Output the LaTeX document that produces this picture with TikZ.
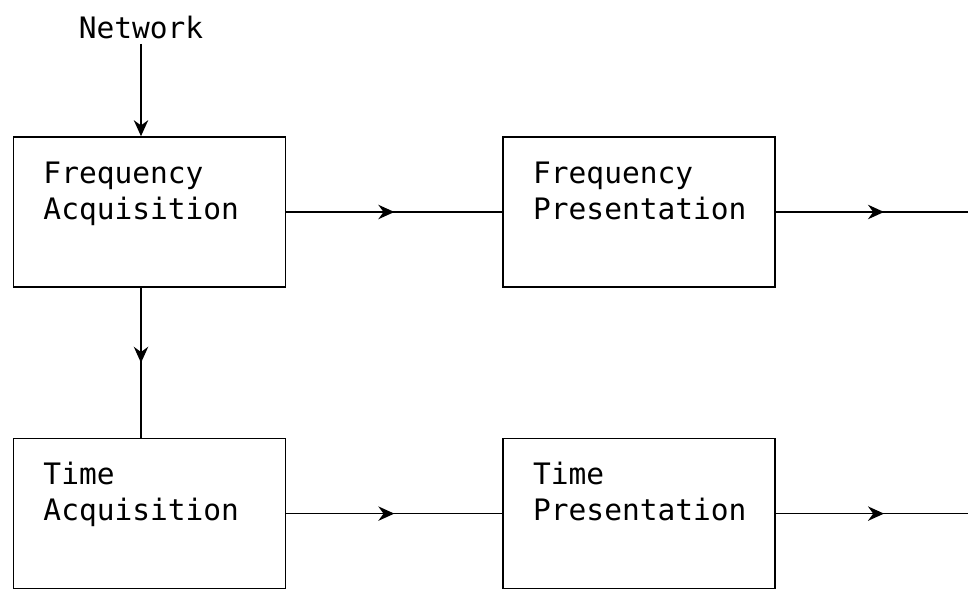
\documentclass[tikz,border=0pt]{standalone}
\usepackage{fontspec}
\setmonofont{DejaVu Sans Mono}
\usepackage{tikz}
\usetikzlibrary{arrows.meta,decorations.markings,positioning}

\begin{document}
\begin{tikzpicture}[
    x = 0.025cm, y = -0.025cm, % pixel grid, y pointing down
    line width = 1.1pt, % line style
    node distance = 3.75cm and 5.4cm, % gaps between boxes
    font = \ttfamily\fontsize{21}{25.6}\selectfont,
    tip/.style = {-{Stealth[length=4mm, width=3.6mm]}},
    midarrow/.style = {
        postaction = {decorate},
        decoration = {markings,
            mark = at position 0.5 with {\arrow{Stealth[length=4mm, width=3.6mm]}}}
    }
]
\tikzstyle{block}=[
    draw = black,
    rectangle,
    minimum width = 6.8cm,
    minimum height = 3.75cm,
    text width = 5.3cm,
    inner xsep = 0.75cm,
    align = left
]

\useasboundingbox (0,0) rectangle (968,596);
\clip (0,0) rectangle (968,596);

\node (net) at (141,27) {Network};
\node[block] (fa) at (149.5,212) {\strut Frequency\\\strut Acquisition\\\strut};
\node[block] (fp) [right=of fa] {\strut Frequency\\\strut Presentation\\\strut};
\node[block] (ta) [below=of fa] {\strut Time\\\strut Acquisition\\\strut};
\node[block] (tp) [right=of ta] {\strut Time\\\strut Presentation\\\strut};

\coordinate[right=5.4cm of fp.east] (fpout);
\coordinate[right=5.4cm of tp.east] (tpout);

\draw[tip] (net) -- (net |- fa.north);
\draw[midarrow] (fa.south -| net) -- (ta.north -| net);

\draw[midarrow] (fa) -- (fp);
\draw[midarrow] (ta) -- (tp);
\draw[midarrow] (fp) -- (fpout);
\draw[midarrow] (tp) -- (tpout);

\end{tikzpicture}
\end{document}
